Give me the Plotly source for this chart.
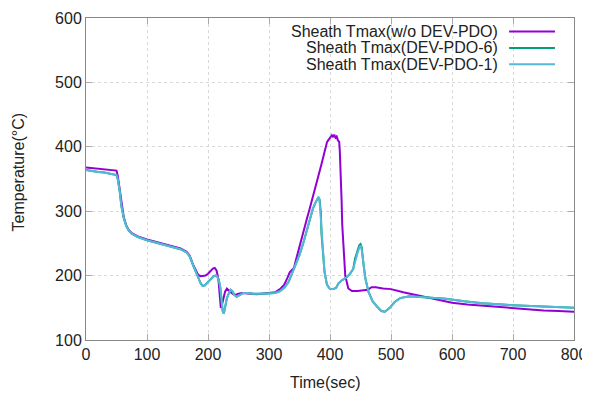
import plotly.graph_objects as go

# ---- data ----
t_wo = [0,10,20,30,40,50,52,55,58,62,66,70,75,85,100,120,140,155,165,170,176,180,184,188,192,196,200,204,208,211,214,217,219,221,223,225,228,231,235,240,245,250,256,262,270,280,290,300,310,318,325,330,334,338,341,343,347,352,357,362,367,372,377,382,386,390,393,395,397,399,401,403,405,407,409,411,413,415,416,417,418,419,420,422,425,430,436,445,455,462,468,475,487,500,520,540,560,580,600,625,650,675,700,725,750,775,800]
T_wo = [368,367,366,365,364,363,355,335,310,290,278,271,266,261,256,251,246,242,237,231,216,208,201,199,199,200,203,207,211,212,208,195,172,150,155,165,175,180,177,172,170,172,173,173,172,171,172,172,174,179,186,196,205,209,212,220,235,255,272,288,305,322,340,358,373,388,400,407,410,413,416,418,415,419,414,416,410,408,395,374,345,317,280,240,200,180,176,176,177,178,182,182,180,179,174,170,166,161,158,155,153,151,149,147,146,145,144,143]

t_pdo = [0,10,20,30,40,50,52,55,58,62,66,70,75,85,100,120,140,155,165,170,176,180,184,188,191,195,200,205,209,212,215,218,220,222,224,226,228,231,234,237,240,243,247,252,258,265,275,290,300,310,318,325,332,338,343,350,356,362,368,372,376,378,380,381,382,383,384,385,386,388,391,395,400,405,410,414,420,427,433,438,441,445,448,450,452,455,458,463,470,477,484,490,498,506,515,530,547,565,590,620,650,700,750,800]
T_pdo6 = [364,362,361,360,358,356,350,333,308,289,277,270,265,260,255,250,245,241,236,230,215,205,195,188,184,185,190,196,199,200,199,192,183,165,145,141,150,165,172,178,176,170,167,170,173,173,172,172,172,173,176,181,190,204,214,232,250,271,292,304,313,318,320,321,320,318,308,298,266,237,206,186,179,179,181,188,193,197,203,210,226,238,247,249,244,217,196,175,160,152,145,144,150,159,165,168,167,166,164,160,157,154,152,150,149]
T_pdo1 = [364,362,361,360,358,356,350,333,308,289,277,270,265,260,255,250,245,241,236,230,215,205,195,188,184,185,190,196,199,200,199,192,183,165,145,141,150,165,172,178,176,170,167,170,173,173,172,172,172,173,176,181,190,204,214,232,250,271,292,304,313,318,320,322,320,315,302,290,262,235,205,186,179,179,181,188,193,197,203,210,222,235,243,247,240,215,195,175,160,152,145,144,150,159,165,168,167,166,164,160,157,154,152,150,149]

names = ["Sheath Tmax(w/o DEV-PDO)", "Sheath Tmax(DEV-PDO-6)", "Sheath Tmax(DEV-PDO-1)"]
colors = ["#9400D3", "#009E73", "#55B8D8"]
x_ticks = [0, 100, 200, 300, 400, 500, 600, 700, 800]
y_ticks = [100, 200, 300, 400, 500, 600]
x_title = "Time(sec)"
y_title = "Temperature(°C)"

FONT = "Liberation Sans, Arial, sans-serif"
TXT = "#222222"
FS = 16

fig = go.Figure()
series = [(t_wo, T_wo), (t_pdo, T_pdo6), (t_pdo, T_pdo1)]
for (xs, ys), nm, c in zip(series, names, colors):
    fig.add_trace(go.Scatter(x=xs, y=ys, mode="lines", name=nm,
                             line=dict(color=c, width=2), showlegend=False))

# gnuplot-style legend: right-aligned text with line sample on the right
legend_y = [0.958, 0.907, 0.856]
for nm, c, ly in zip(names, colors, legend_y):
    fig.add_annotation(x=0.846, y=ly, xref="paper", yref="paper", text=nm,
                       showarrow=False, xanchor="right", yanchor="middle",
                       borderpad=0, font=dict(size=FS, color=TXT, family=FONT))
    fig.add_shape(type="line", xref="paper", yref="paper",
                  x0=0.867, x1=0.961, y0=ly, y1=ly,
                  line=dict(color=c, width=2))

# axis titles
fig.add_annotation(x=0.49, y=-0.133, xref="paper", yref="paper", text=x_title,
                   showarrow=False, xanchor="center", yanchor="middle",
                   font=dict(size=FS, color=TXT, family=FONT))
fig.add_annotation(x=-0.139, y=0.521, xref="paper", yref="paper", text=y_title,
                   showarrow=False, xanchor="center", yanchor="middle", textangle=-90,
                   font=dict(size=FS, color=TXT, family=FONT))

axis_common = dict(showline=True, linecolor="#888888", linewidth=1, mirror="ticks",
                   ticks="inside", ticklen=6, tickcolor="#aaaaaa", automargin=False,
                   showgrid=True, gridcolor="#d8d8d8", griddash="dot", gridwidth=1,
                   zeroline=False, tickfont=dict(size=FS, color=TXT, family=FONT))

fig.update_xaxes(range=[0, 800], tickvals=x_ticks, **axis_common)
fig.update_yaxes(range=[100, 600], tickvals=y_ticks, **axis_common)

# page body has an 8px margin: size the figure so the plot area lands where the reference has it
fig.update_layout(width=582, height=386, margin=dict(l=78, r=16, t=10, b=54),
                  paper_bgcolor="white", plot_bgcolor="white",
                  font=dict(family=FONT))

fig.write_html("out.html")
